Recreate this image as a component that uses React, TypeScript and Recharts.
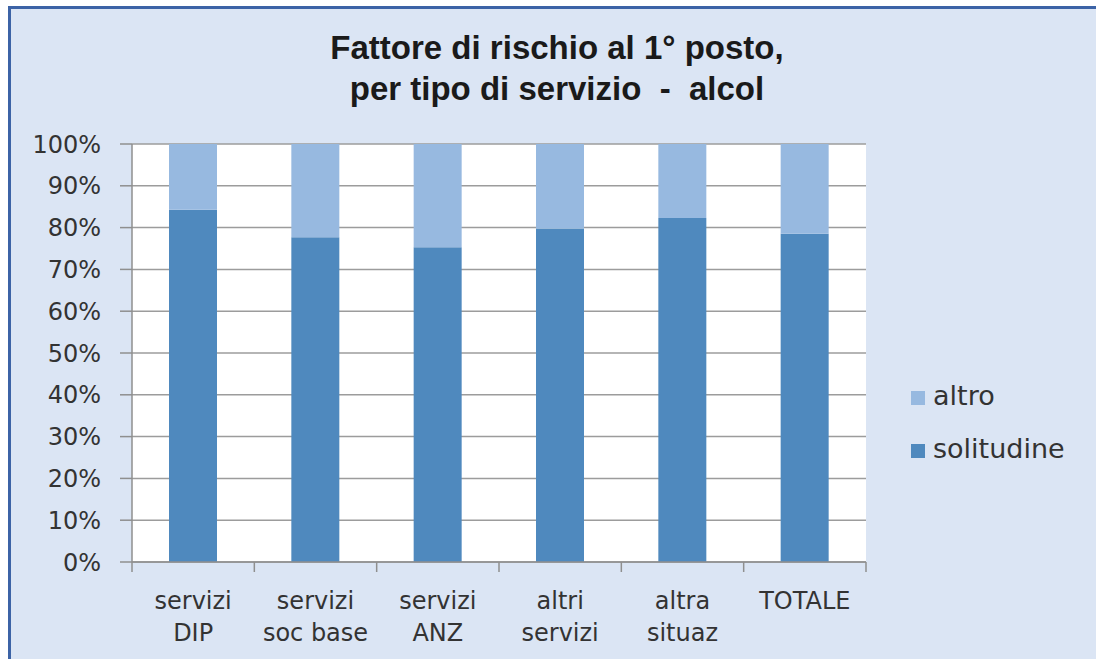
import React from "react";
import { BarChart, Bar, XAxis, YAxis, CartesianGrid } from "recharts";

const categories = ["servizi\nDIP", "servizi\nsoc base", "servizi\nANZ", "altri\nservizi", "altra\nsituaz", "TOTALE"];
const solitudine = [84.3, 77.7, 75.3, 79.8, 82.3, 78.5];
const altro = [15.7, 22.3, 24.7, 20.2, 17.7, 21.5];
const yTicks = [0, 10, 20, 30, 40, 50, 60, 70, 80, 90, 100];
const seriesNames = { solitudine: "solitudine", altro: "altro" };
const titleLines = ["Fattore di rischio al 1° posto,", "per tipo di servizio  -  alcol"];

const DARK = "#4f89be";
const LIGHT = "#97b9e0";
const BG = "#dbe5f4";
const AXIS = "#8f8f8f";
const FONT = "'DejaVu Sans', sans-serif";

const data = categories.map((c, i) => ({
  name: c,
  solitudine: solitudine[i],
  altro: altro[i],
}));

function CategoryTick({ x, y, payload, index, visibleTicksCount }: any) {
  const lines = String(payload.value).split("\n");
  const half = payload.offset ?? 61;
  const last = index === (visibleTicksCount ?? categories.length) - 1;
  return (
    <g>
      <line x1={x - half} x2={x - half} y1={y - 10} y2={y} stroke={AXIS} strokeWidth={1.5} />
      {last && <line x1={x + half} x2={x + half} y1={y - 10} y2={y} stroke={AXIS} strokeWidth={1.5} />}
      <text x={x} y={y} textAnchor="middle" fontFamily={FONT} fontSize={24} fill="#333">
        {lines.map((l, i) => (
          <tspan key={i} x={x} y={y + 37 + i * 32}>
            {l}
          </tspan>
        ))}
      </text>
    </g>
  );
}

function LegendRow({ color, label, top }: { color: string; label: string; top: number }) {
  return (
    <div style={{ position: "absolute", left: 900, top, display: "flex", alignItems: "flex-start", height: 30 }}>
      <div style={{ width: 14, height: 14, background: color, marginTop: 10, marginRight: 8 }} />
      <span style={{ fontFamily: FONT, fontSize: 27, lineHeight: "30px", color: "#333" }}>{label}</span>
    </div>
  );
}

export default function App() {
  return (
    <>
      <style>{"html,body{overflow:hidden}"}</style>
      <div
        style={{
          position: "absolute",
          left: 8,
          top: 6,
          width: 1090,
          height: 656,
          background: BG,
          borderTop: "3px solid #3c63a6",
          borderLeft: "3px solid #3c63a6",
          overflow: "hidden",
        }}
      >
        <div
          style={{
            position: "absolute",
            left: 0,
            top: 18,
            width: 1092,
            textAlign: "center",
            fontFamily: "'Liberation Sans', Arial, sans-serif",
            fontWeight: "bold",
            fontSize: 33,
            lineHeight: "41px",
            color: "#1a1a1a",
            whiteSpace: "pre",
          }}
        >
          {titleLines[0]}
          <br />
          {titleLines[1]}
        </div>

        <BarChart
          width={1085}
          height={650}
          data={data}
          margin={{ top: 135, right: 230, bottom: 0, left: 0 }}
          barSize={48}
        >
          <CartesianGrid vertical={false} stroke="#9c9c9c" strokeWidth={1.5} fill="#ffffff" fillOpacity={1} />
          <XAxis
            dataKey="name"
            height={97}
            tickLine={false}
            tickSize={10}
            tickMargin={0}
            axisLine={{ stroke: AXIS, strokeWidth: 1.5 }}
            tick={<CategoryTick />}
            interval={0}
          />
          <YAxis
            width={121}
            domain={[0, 100]}
            ticks={yTicks}
            interval={0}
            tickFormatter={(v: number) => `${v}%`}
            tickSize={12}
            tickMargin={19}
            axisLine={{ stroke: AXIS, strokeWidth: 1.5 }}
            tickLine={{ stroke: AXIS, strokeWidth: 1.5 }}
            tick={{ fontFamily: FONT, fontSize: 24, fill: "#333" }}
          />
          <Bar dataKey="solitudine" name={seriesNames.solitudine} stackId="a" fill={DARK} isAnimationActive={false} />
          <Bar dataKey="altro" name={seriesNames.altro} stackId="a" fill={LIGHT} isAnimationActive={false} />
        </BarChart>

        <LegendRow color={LIGHT} label={seriesNames.altro} top={372} />
        <LegendRow color={DARK} label={seriesNames.solitudine} top={425} />
      </div>
    </>
  );
}
